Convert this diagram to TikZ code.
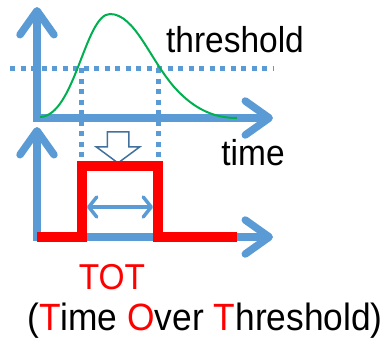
\documentclass[tikz,border=0pt]{standalone}
\usepackage{fontspec}
\setmainfont[FakeStretch=0.93]{Liberation Sans}
\usepackage{xcolor}
\usetikzlibrary{arrows.meta, shapes.arrows, positioning}
\definecolor{axisblue}{HTML}{5B9BD5}
\definecolor{curvegreen}{HTML}{00B050}
\definecolor{arrowedge}{HTML}{41719C}
\tikzstyle{axis} = [draw=axisblue, line width=7.5pt, {Straight Barb[length=24pt, width=34pt, round]}-{Straight Barb[length=24pt, width=34pt, round]}]
\tikzstyle{level} = [draw=axisblue, line width=5pt, dash pattern=on 5pt off 5.5pt]
\tikzstyle{pulse} = [draw=red, line width=10.5pt]
\tikzstyle{span} = [draw=axisblue, line width=3.5pt, {Straight Barb[length=8pt, width=20pt, round]}-{Straight Barb[length=8pt, width=20pt, round]}]
\tikzstyle{hollow} = [draw=arrowedge, fill=white, line width=1.5pt, single arrow, shape border rotate=270, minimum height=31pt, inner sep=10pt, single arrow head extend=11pt, single arrow tip angle=107]
\tikzstyle{txt} = [inner sep=0pt, font=\fontsize{36}{40}\selectfont]

\begin{document}
\begin{tikzpicture}[x=1pt, y=-1pt]
    \useasboundingbox (0,0) rectangle (387,343);
    % axes
    \coordinate (y1) at (37,7);
    \coordinate (o1) at (37,118);
    \coordinate (x1) at (273,118);
    \coordinate (y2) at (37,127);
    \coordinate (o2) at (37,237);
    \coordinate (x2) at (273,237);
    \draw [axis] (y1) -- (o1) -- (x1);
    \draw [axis] (y2) -- (o2) -- (x2);

    % threshold and crossings
    \coordinate (th0) at (10,68);
    \coordinate (th1) at (273,68);
    \coordinate (c1) at (81,68);
    \coordinate (c2) at (158,68);
    \coordinate (d1) at (81,162);
    \coordinate (d2) at (158,162);
    \draw [level] (th0) -- (th1);
    \draw [level] (c1) -- (d1);
    \draw [level] (c2) -- (d2);

    % signal
    \draw [curvegreen, line width=2pt] (40,117) .. controls (75,116) and (85,14) .. (110,14)
        .. controls (135,14) and (150,60) .. (175,88)
        .. controls (195,110) and (215,118) .. (237,118);

    \node (down) [hollow] at (118,143.5) {};

    % output pulse
    \coordinate (p1) at (82,237);
    \coordinate (p2) at (82,166);
    \coordinate (p3) at (158,166);
    \coordinate (p4) at (158,237);
    \coordinate (p5) at (237,237);
    \draw [pulse] (o2) -- (p1) -- (p2) -- (p3) -- (p4) -- (p5);
    \coordinate (s1) at (87,207);
    \coordinate (s2) at (153,207);
    \draw [span] (s1) -- (s2);

    % labels
    \node (thr) [txt] at (235,40) {threshold};
    \node (time) [txt] at (253,153) {time};
    \node (tot) [txt, text=red] at (112,277) {TOT};
    \node (full) [txt, font=\fontsize{38}{42}\selectfont, below=13pt of tot, xshift=93pt] {(\textcolor{red}{T}ime \textcolor{red}{O}ver \textcolor{red}{T}hreshold)};
\end{tikzpicture}
\end{document}
